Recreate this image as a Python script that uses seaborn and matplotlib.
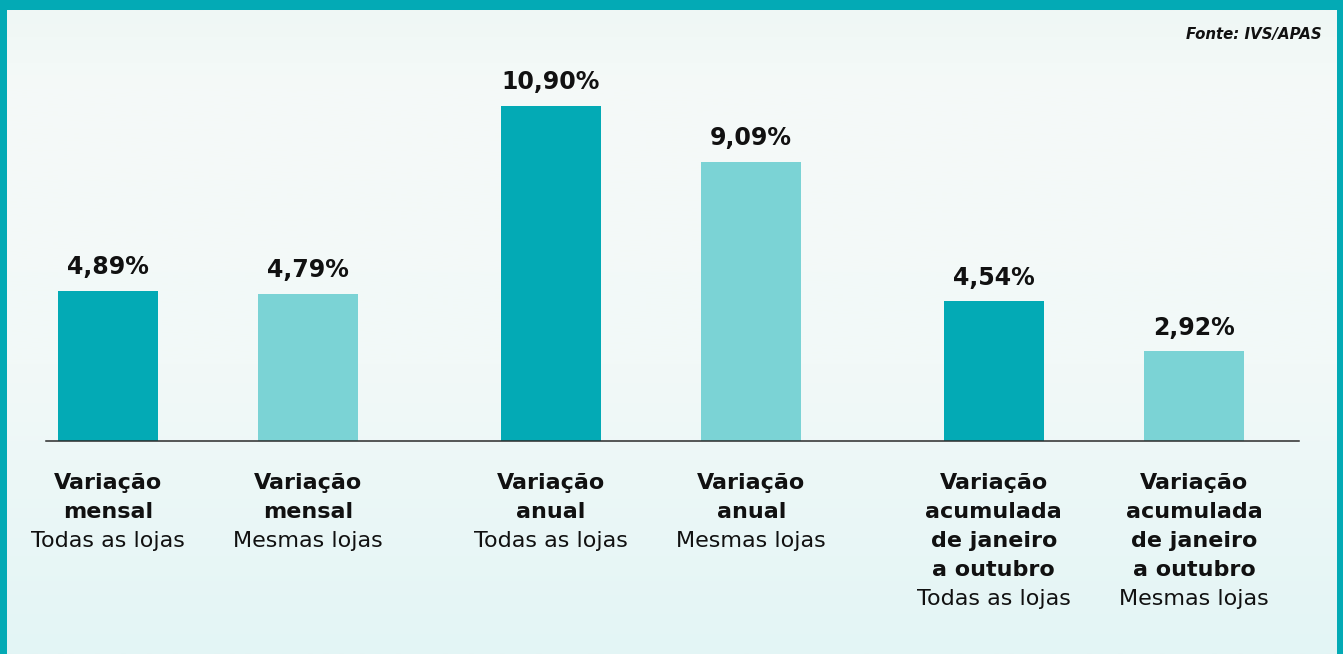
import matplotlib
matplotlib.use("Agg")
import matplotlib.pyplot as plt
import numpy as np
import pandas as pd
import seaborn as sns
from matplotlib.colors import LinearSegmentedColormap

# Data
GROUPS = ['Variação\nmensal', 'Variação\nanual', 'Variação\nacumulada\nde janeiro\na outubro']
STORES = ['Todas as lojas', 'Mesmas lojas']
TODAS = [4.89, 10.90, 4.54]
MESMAS = [4.79, 9.09, 2.92]
SOURCE = 'Fonte: IVS/APAS'

TEAL = '#03AAB5'
LIGHT_TEAL = '#7BD3D5'
W, H = 1343, 654


def build_frame():
    rows = []
    for g, a, b in zip(GROUPS, TODAS, MESMAS):
        rows.append({'grupo': g, 'lojas': STORES[0], 'valor': a})
        rows.append({'grupo': g, 'lojas': STORES[1], 'valor': b})
    return pd.DataFrame(rows)


def main():
    df = build_frame()
    sns.set_style("white")
    plt.rcParams['font.family'] = ['DejaVu Sans']

    fig = plt.figure(figsize=(W / 100, H / 100), dpi=100)
    fig.patch.set_facecolor(TEAL)

    # light gradient panel inside the teal frame
    bg = fig.add_axes([7 / W, 0, 1330 / W, 644 / H])
    cmap = LinearSegmentedColormap.from_list(
        'bg', [(0, '#EFF7F5'), (0.12, '#F5FAF8'), (0.55, '#F2F9F8'), (1.0, '#E3F5F5')])
    grad = np.linspace(0, 1, 256).reshape(-1, 1)
    bg.imshow(grad, aspect='auto', cmap=cmap, extent=[0, 1, 1, 0])
    bg.set_axis_off()

    ax = fig.add_axes([46 / W, (H - 441) / H, (1299 - 46) / W, (441 - 40) / H])
    ax.set_facecolor('none')
    sns.barplot(data=df, x='grupo', y='valor', hue='lojas', hue_order=STORES,
                palette=[TEAL, LIGHT_TEAL], width=0.905, gap=0.50,
                legend=False, ax=ax, saturation=1, linewidth=0)

    ax.set_xlim(-0.366, 2.463)
    ax.set_ylim(0, 10.90 * 401 / 335)
    for s in ['top', 'right', 'left']:
        ax.spines[s].set_visible(False)
    ax.spines['bottom'].set_color('#2b2b2b')
    ax.spines['bottom'].set_linewidth(1.1)
    ax.set_xticks([])
    ax.set_yticks([])
    ax.set_xlabel('')
    ax.set_ylabel('')

    for store, cont in zip(STORES, ax.containers):
        for bar, group in zip(cont, GROUPS):
            cx = bar.get_x() + bar.get_width() / 2
            val = bar.get_height()
            ax.annotate(f"{val:.2f}%".replace('.', ','), xy=(cx, val),
                        xytext=(0, 12), textcoords='offset points',
                        ha='center', va='baseline', fontsize=17,
                        fontweight='bold', color='#111111')
            lines = [(t, 'bold') for t in group.split('\n')] + [(store, 'normal')]
            for i, (txt, wt) in enumerate(lines):
                ax.annotate(txt, xy=(cx, 0), xytext=(0, -34.6 - i * 20.8),
                            textcoords='offset points', ha='center',
                            va='baseline', fontsize=16, fontweight=wt,
                            color='#111111', annotation_clip=False)

    fig.text(1322 / W, 1 - 39 / H, SOURCE, ha='right', va='baseline',
             fontsize=10.8, fontweight='bold', fontstyle='italic', color='#111111')

    fig.savefig('out.png', dpi=100, facecolor=fig.get_facecolor())


if __name__ == "__main__":
    main()
